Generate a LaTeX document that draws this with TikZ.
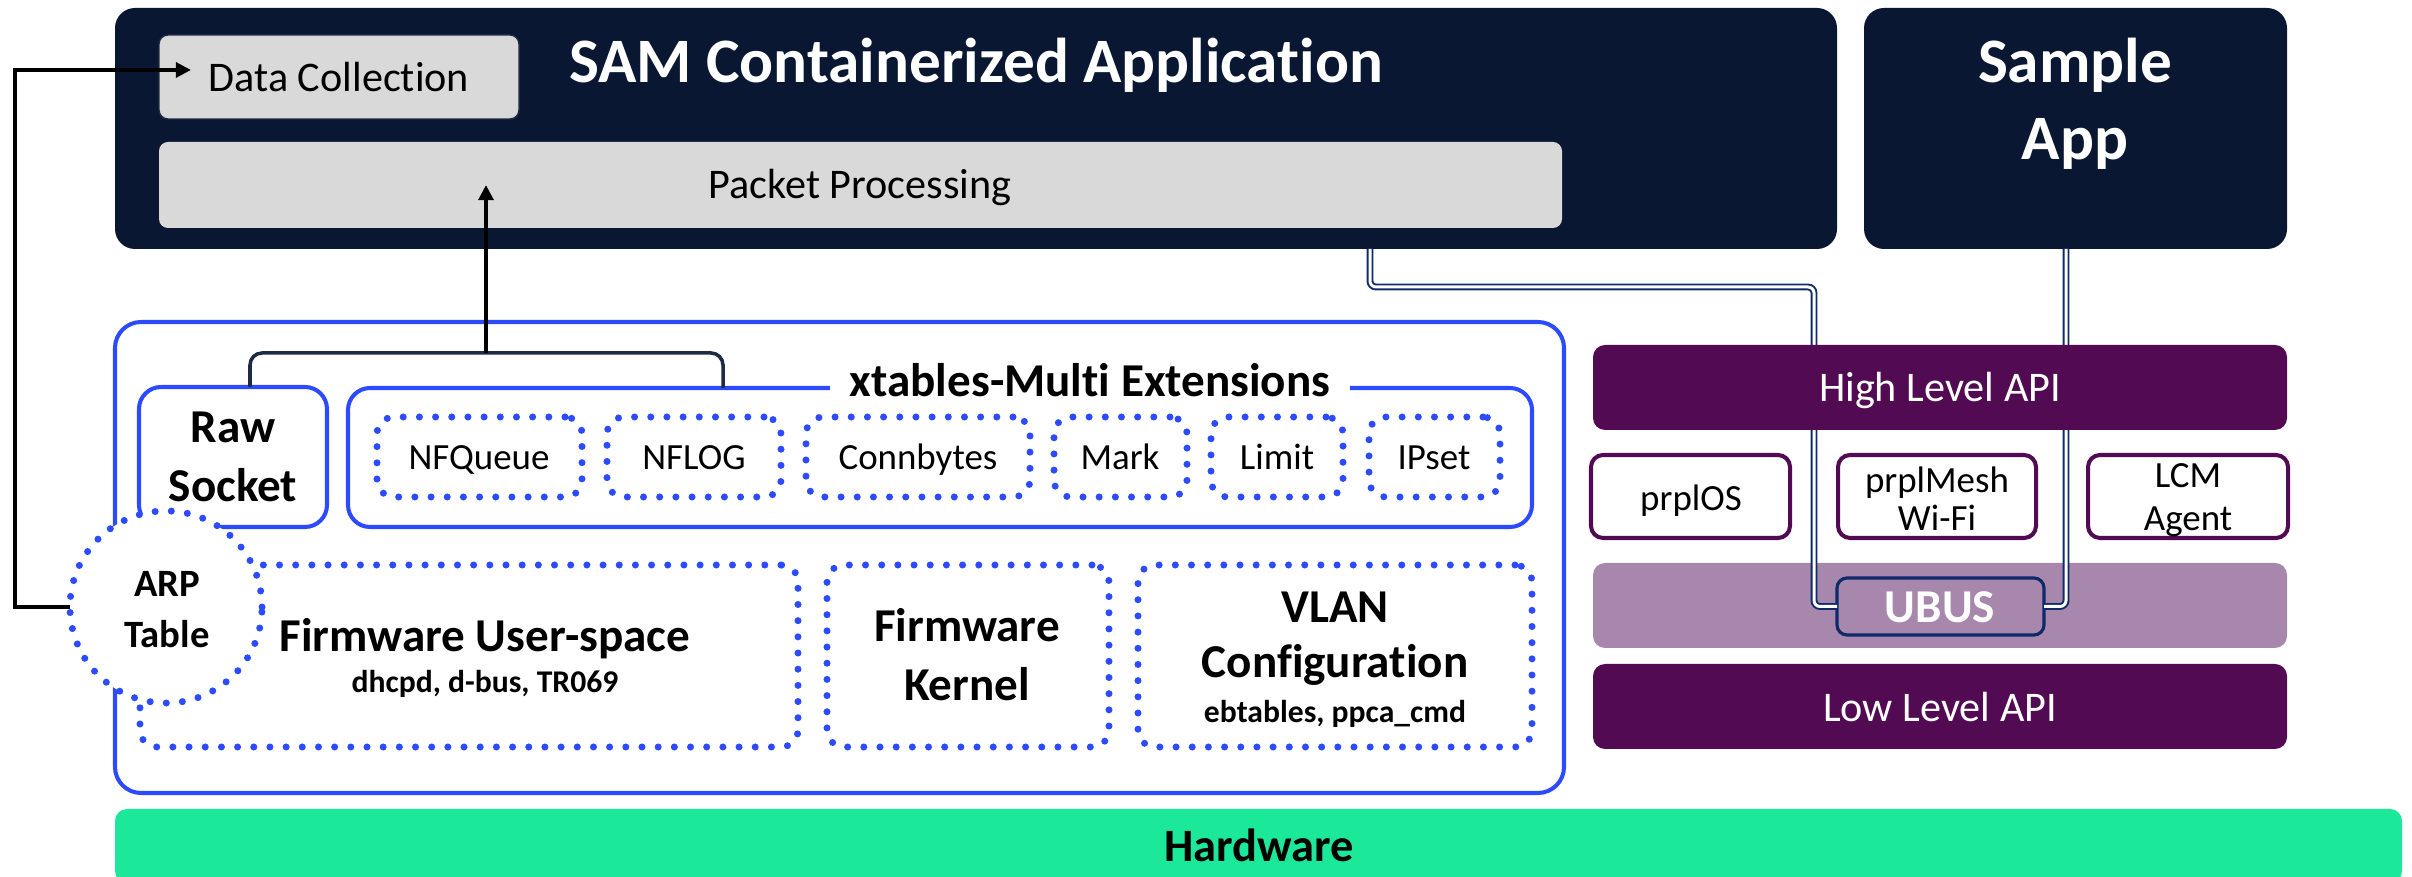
\documentclass[tikz,border=0pt]{standalone}
\usepackage{fontspec}
\setmainfont{Carlito}[Ligatures=NoCommon]
\usetikzlibrary{arrows.meta,fit,calc}
\definecolor{navy}{HTML}{091733}
\definecolor{gbox}{HTML}{D9D9D9}
\definecolor{fwblue}{HTML}{2C4BFF}
\definecolor{brk}{HTML}{1E2B45}
\definecolor{prpl}{HTML}{520A52}
\definecolor{ubusband}{HTML}{A787AB}
\definecolor{ubusline}{HTML}{0F2A6B}
\definecolor{hw}{HTML}{1CE89A}
\newcommand\fsz[2]{\fontsize{#1}{#2}\selectfont}
\begin{document}
\begin{tikzpicture}[x=0.01cm,y=-0.01cm,
  box/.style={inner sep=0pt, outer sep=0pt},
  darkbox/.style={box, fill=navy, rounded corners=0.2cm},
  graybox/.style={box, fill=gbox, rounded corners=0.09cm},
  fwbox/.style={box, draw=fwblue, line width=1.15pt},
  dotbox/.style={box, draw=fwblue, line width=2pt, dash pattern=on 0pt off 4.6pt, line cap=round, rounded corners=0.17cm},
  apibar/.style={box, fill=prpl, rounded corners=0.12cm},
  compbox/.style={box, draw=prpl, fill=white, line width=1.15pt, rounded corners=0.12cm},
  txt/.style={inner sep=0pt, anchor=base},
  wtxt/.style={txt, text=white},
  arr/.style={line width=1.3pt, -{Triangle[length=4.3pt,width=4.2pt]}},
  bracket/.style={draw=brk, line width=1pt, rounded corners=0.12cm},
  dbl/.style={draw=ubusline, line width=0.55pt, double=white, double distance=0.85pt, rounded corners=0.06cm},
  title/.style={font=\fsz{18}{22}\bfseries},
  reg/.style={font=\fsz{12}{14}},
  small/.style={font=\fsz{10.5}{12.5}},
  bld/.style={font=\fsz{13.4}{16}\bfseries},
  sub/.style={font=\fsz{9}{11}\bfseries}
]
\clip (0,0) rectangle (2412,877);

% SAM containerized application
\node[darkbox, fit={(115,8) (1837,249)}] (sam) {};
\node[graybox, draw=brk, line width=0.4pt, fit={(159,35) (519,119)}] (dc) {};
\node[graybox, fit={(159,142) (1562,228)}] (pp) {};
\node[wtxt, title] (samt) at (976,83) {SAM Containerized Application};
\node[txt, reg] (dct) at (339,92) {Data Collection};
\node[txt, reg] (ppt) at (860,199) {Packet Processing};

% Sample App
\node[darkbox, fit={(1864,8) (2287,249)}] (sa) {};
\node[wtxt, title] (sat1) at (2075,83) {Sample};
\node[wtxt, title] (sat2) at (2075,160) {App};

% Firmware area
\node[fwbox, rounded corners=0.26cm, fit={(115,322) (1564,793)}] (fw) {};
\node[fwbox, rounded corners=0.22cm, fit={(139,387) (327,527)}] (raw) {};
\node[txt, bld] (rawt1) at (233,443) {Raw};
\node[txt, bld] (rawt2) at (233,502) {Socket};
\node[fwbox, rounded corners=0.22cm, fit={(348,388) (1532,527)}] (xt) {};
\node[txt, bld, fill=white, inner xsep=0.2cm] (xtt) at (1090,397) {xtables-Multi Extensions};

\node[dotbox, fit={(377,417) (582,497)}] (nfq) {};
\node[dotbox, fit={(607,417) (781,497)}] (nflog) {};
\node[dotbox, fit={(806,417) (1030,497)}] (connb) {};
\node[dotbox, fit={(1054,417) (1187,497)}] (mark) {};
\node[dotbox, fit={(1211,417) (1343,497)}] (limit) {};
\node[dotbox, fit={(1369,417) (1500,497)}] (ipset) {};
\node[txt, small] (nfqt) at (479,470) {NFQueue};
\node[txt, small] (nflogt) at (694,470) {NFLOG};
\node[txt, small] (connbt) at (918,470) {Connbytes};
\node[txt, small] (markt) at (1120,470) {Mark};
\node[txt, small] (limitt) at (1277,470) {Limit};
\node[txt, small] (ipsett) at (1434,470) {IPset};

\coordinate (bl) at (250,0);
\coordinate (bm) at (486,353);
\coordinate (brr) at (723,0);
\draw[bracket] (raw.north -| bl) |- (bm) -| (xt.north -| brr);
\draw[arr] (bm) -- (bm |- pp.center);

\node[dotbox, fit={(140,565) (798,747)}] (fus) {};
\node[txt, bld] (fust1) at (485,652) {Firmware User-space};
\node[txt, sub] (fust2) at (485,693) {dhcpd, d-bus, TR069};
\node[dotbox, fit={(827,565) (1109,747)}] (fk) {};
\node[txt, bld] (fkt1) at (967,642) {Firmware};
\node[txt, bld] (fkt2) at (967,701) {Kernel};
\node[dotbox, fit={(1138,565) (1532,747)}] (vlan) {};
\node[txt, bld] (vlant1) at (1335,623) {VLAN};
\node[txt, bld] (vlant2) at (1335,678) {Configuration};
\node[txt, sub] (vlant3) at (1335,723) {ebtables, ppca\_cmd};

\node[dotbox, circle, fill=white, minimum size=1.92cm] (arp) at (166,607) {};
\node[txt, font=\fsz{11}{13}\bfseries] (arpt1) at (167,597) {ARP};
\node[txt, font=\fsz{11}{13}\bfseries] (arpt2) at (167,648) {Table};

\coordinate (lft) at (15,300);
\draw[arr] (arp.west) -| (lft) |- ([xshift=0.32cm,yshift=0.07cm]dc.west);

% right stack
\node[box, fill=ubusband, rounded corners=0.12cm, fit={(1593,563) (2287,648)}] (band) {};
\node[box, fill=ubusband, draw=ubusline, line width=0.9pt, rounded corners=0.1cm, fit={(1837,578) (2044,635)}] (ubus) {};
\node[wtxt, bld] (ubust) at (1940,623) {UBUS};

\coordinate (d1) at (1370,0);
\coordinate (d2) at (1814,287);
\coordinate (d3) at (2066,0);
\draw[dbl] (sam.south -| d1) |- (d2) |- (ubus.west);
\draw[dbl] (sa.south -| d3) |- (ubus.east);

\node[apibar, fit={(1593,345) (2287,430)}] (hl) {};
\node[wtxt, reg] (hlt) at (1940,402) {High Level API};
\node[compbox, fit={(1591,455) (1790,538)}] (os) {};
\node[txt, small] (ost) at (1691,511) {prplOS};
\node[compbox, fit={(1838,455) (2036,538)}] (mesh) {};
\node[txt, small] (mesht1) at (1937,493) {prplMesh};
\node[txt, small] (mesht2) at (1937,531) {Wi-Fi};
\node[compbox, fit={(2088,455) (2288,538)}] (lcm) {};
\node[txt, small] (lcmt1) at (2188,488) {LCM};
\node[txt, small] (lcmt2) at (2188,531) {Agent};
\node[apibar, fit={(1593,664) (2287,749)}] (ll) {};
\node[wtxt, reg] (llt) at (1940,722) {Low Level API};

% hardware
\node[box, fill=hw, rounded corners=0.12cm, fit={(115,809) (2402,883)}] (hwb) {};
\node[txt, font=\fsz{13.2}{16}\bfseries] (hwt) at (1259,862) {Hardware};
\end{tikzpicture}
\end{document}
